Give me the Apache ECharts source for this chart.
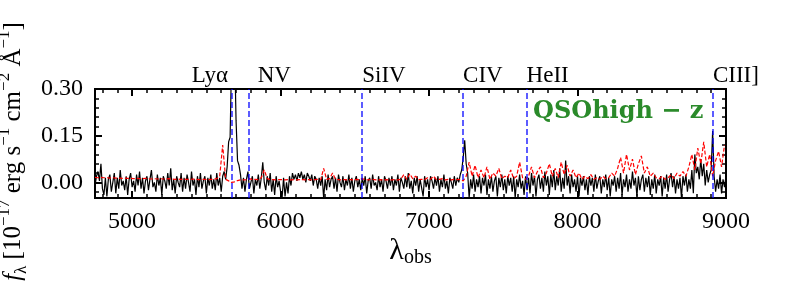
<!DOCTYPE html>
<html>
<head>
<meta charset="utf-8">
<script src="https://cdn.jsdelivr.net/npm/echarts@6/dist/echarts.min.js"></script>
<style>
html,body{margin:0;padding:0;background:#fff;}
#chart{width:789px;height:292px;}
</style>
</head>
<body>
<div id="chart"></div>
<script>
// ---- data (flux in 1e-17 erg/s/cm^2/A) ----
// black spectrum: sampled every 10 A from 4750 A
const BLACK_START = 4750;
const BLACK_STEP = 10;
const fluxBlack = [
  -0.01, 0.02, 0.035, 0.005, 0.06, -0.02, -0.04, 0.015, -0.045, 0.01,
  0.025, -0.03, 0.0, 0.03, -0.035, 0.015, -0.02, 0.04, -0.01, 0.005,
  -0.025, 0.02, -0.04, 0.01, 0.03, -0.015, 0.005, -0.03, 0.025, -0.01,
  0.035, -0.02, 0.015, -0.035, 0.005, 0.02, -0.025, 0.01, 0.04, -0.015,
  0.0, -0.03, 0.025, -0.01, 0.015, -0.04, 0.02, 0.005, -0.02, 0.03,
  -0.01, 0.045, -0.025, 0.01, -0.035, 0.02, 0.0, -0.015, 0.03, -0.03,
  0.015, -0.02, 0.025, 0.0, -0.03, 0.035, -0.01, 0.01, -0.04, 0.02,
  -0.015, 0.03, -0.02, 0.005, 0.02, -0.035, 0.015, -0.01, 0.025, -0.02,
  0.01, -0.025, 0.03, -0.01, 0.015, -0.03, 0.02, 0.035, 0.01, 0.05,
  0.13, 0.145, 0.40, 0.48, 0.44, 0.20, 0.07, 0.055, 0.025, -0.02,
  0.015, -0.03, 0.01, 0.035, -0.02, 0.0, 0.02, -0.035, 0.01, -0.01,
  0.025, -0.02, 0.015, 0.065, 0.0, -0.025, 0.02, -0.01, 0.03, -0.03,
  0.01, -0.04, 0.02, -0.015, 0.005, -0.03, -0.05, 0.015, -0.045, 0.0,
  -0.035, 0.02, -0.01, 0.03, 0.01, 0.025, 0.005, 0.03, 0.015, 0.035,
  0.01, 0.025, 0.0, 0.03, 0.02, 0.005, 0.025, -0.01, 0.02, 0.01,
  -0.02, 0.015, -0.01, 0.02, -0.05, 0.01, -0.025, 0.025, -0.015, 0.01,
  0.02, -0.02, 0.015, -0.03, 0.025, 0.0, -0.015, 0.02, -0.025, 0.01,
  -0.01, 0.025, -0.02, 0.015, -0.03, 0.005, 0.02, -0.015, 0.01, -0.025,
  0.015, -0.01, 0.02, -0.035, 0.005, 0.015, -0.02, 0.025, -0.01, 0.0,
  -0.025, 0.02, -0.015, 0.01, -0.03, 0.02, 0.005, -0.02, 0.015, -0.01,
  0.02, -0.025, 0.01, -0.01, 0.025, -0.03, 0.015, 0.0, -0.02, 0.02,
  -0.015, 0.03, -0.02, 0.005, -0.035, 0.015, -0.01, 0.02, -0.03, 0.01,
  0.015, -0.045, 0.02, -0.015, 0.01, -0.025, 0.02, 0.005, -0.02, 0.015,
  -0.01, 0.02, -0.03, 0.01, -0.015, 0.025, -0.02, 0.005, -0.035, 0.015,
  0.0, -0.02, 0.02, -0.01, 0.015, 0.0, 0.025, 0.04, 0.08, 0.135,
  0.06, 0.03, -0.05, 0.01, -0.02, 0.025, -0.03, 0.01, -0.015, 0.02,
  -0.035, 0.015, -0.01, 0.025, -0.04, 0.01, -0.02, 0.02, -0.03, 0.005,
  0.02, -0.045, 0.015, -0.015, 0.025, -0.025, 0.01, -0.035, 0.02, -0.01,
  0.015, -0.03, 0.02, -0.05, 0.01, -0.015, 0.025, -0.02, 0.005, -0.04,
  0.02, -0.025, 0.015, -0.035, 0.03, -0.01, 0.02, -0.045, 0.01, 0.025,
  -0.02, 0.015, -0.03, 0.035, -0.01, 0.02, -0.04, 0.025, -0.015, 0.04,
  -0.025, 0.02, -0.01, 0.045, -0.03, 0.015, -0.02, 0.07, -0.01, 0.02,
  -0.035, 0.025, -0.015, 0.01, -0.03, 0.02, -0.045, 0.015, -0.01, 0.02,
  -0.025, 0.01, -0.04, 0.02, -0.01, 0.015, -0.03, 0.025, -0.02, 0.005,
  0.02, -0.035, 0.01, -0.015, 0.025, -0.025, 0.015, -0.045, 0.01, -0.01,
  0.02, -0.03, 0.015, -0.02, 0.03, -0.04, 0.01, -0.015, 0.025, -0.03,
  0.01, -0.02, 0.035, -0.01, 0.015, -0.045, 0.02, -0.025, 0.01, 0.025,
  -0.03, 0.015, -0.015, 0.02, -0.04, 0.01, -0.02, 0.025, -0.035, 0.01,
  -0.01, 0.02, -0.045, 0.015, -0.02, 0.025, -0.03, 0.01, 0.03, -0.015,
  0.02, -0.035, 0.01, -0.02, 0.015, -0.05, 0.02, -0.01, 0.025, -0.03,
  0.01, -0.02, 0.04, -0.035, 0.09, 0.03, 0.05, 0.01, 0.075, 0.02,
  0.06, -0.01, 0.04, 0.0, 0.025, 0.04, 0.165, 0.02, -0.03, 0.01,
  -0.02, 0.025, -0.035, 0.01, -0.015, 0.02
];
// red (dashed) spectrum: sampled every 20 A from 4750 A
const RED_START = 4750;
const RED_STEP = 20;
const fluxRed = [
  0.016, 0.015, 0.016, 0.015, 0.015, 0.014, 0.015, 0.014, 0.014, 0.013,
  0.014, 0.013, 0.013, 0.012, 0.013, 0.012, 0.012, 0.013, 0.012, 0.011,
  0.012, 0.011, 0.012, 0.011, 0.011, 0.012, 0.011, 0.010, 0.011, 0.010,
  0.011, 0.010, 0.010, 0.011, 0.010, 0.009, 0.010, 0.010, 0.009, 0.010,
  0.010, 0.012, 0.020, 0.120, 0.010, 0.005, 0.000, 0.002, 0.006, 0.008,
  0.008, 0.009, 0.012, 0.009, 0.010, 0.009, 0.015, 0.040, 0.012, 0.009,
  0.009, 0.008, 0.009, 0.009, 0.008, 0.009, 0.008, 0.009, 0.008, 0.009,
  0.009, 0.008, 0.009, 0.008, 0.009, 0.010, 0.008, 0.045, 0.010, 0.012,
  0.030, 0.010, 0.009, 0.008, 0.009, 0.008, 0.009, 0.008, 0.010, 0.009,
  0.012, 0.009, 0.008, 0.010, 0.009, 0.008, 0.009, 0.008, 0.009, 0.008,
  0.008, 0.009, 0.008, 0.010, 0.025, 0.010, 0.028, 0.012, 0.020, 0.009,
  0.010, 0.009, 0.015, 0.010, 0.020, 0.009, 0.010, 0.012, 0.008, 0.010,
  0.008, 0.010, 0.009, 0.010, 0.005, 0.020, 0.065, 0.020, 0.055, 0.015,
  0.040, 0.015, 0.050, 0.010, 0.030, 0.020, 0.045, 0.012, 0.020, 0.015,
  0.040, 0.012, 0.020, 0.065, 0.015, 0.010, 0.020, 0.050, 0.015, 0.035,
  0.050, 0.015, 0.030, 0.060, 0.020, 0.045, 0.015, 0.065, 0.025, 0.055,
  0.020, 0.040, 0.015, 0.030, 0.010, 0.020, 0.012, 0.025, 0.010, 0.015,
  0.010, 0.020, 0.012, 0.015, 0.030, 0.020, 0.045, 0.080, 0.030, 0.090,
  0.040, 0.075, 0.025, 0.060, 0.085, 0.030, 0.050, 0.020, 0.030, 0.015,
  0.012, 0.020, 0.010, 0.015, 0.025, 0.012, 0.030, 0.020, 0.035, 0.020,
  0.050, 0.090, 0.040, 0.110, 0.060, 0.130, 0.050, 0.090, 0.020, 0.070,
  0.100, 0.050, 0.120
];
const lineNames = ['Lyα', 'NV', 'SiIV', 'CIV', 'HeII', 'CIII]'];
const lineWaves = [5673, 5785, 6550, 7229, 7657, 8912];
const xMajorTicks = [5000, 6000, 7000, 8000, 9000];
const yMajorTicks = [0.00, 0.15, 0.30];
const yMinorTicks = [-0.03, 0.03, 0.06, 0.09, 0.12, 0.18, 0.21, 0.24, 0.27];
const X_MIN = 4750, X_MAX = 9000, Y_MIN = -0.05, Y_MAX = 0.30;

const xMinorTicks = [];
for (let w = 4800; w < X_MAX; w += 100) { if (w % 1000 !== 0) xMinorTicks.push(w); }
const blackData = fluxBlack.map((f, i) => [BLACK_START + i * BLACK_STEP, f]);
const redData = fluxRed.map((f, i) => [RED_START + i * RED_STEP, f]);

// ---- styles ----
const SERIF = '"Liberation Serif", serif';
const labelOffsets = [[-4, 0, 'right'], [9, 0, 'left'], [0, 0, 'left'], [0, 0, 'left'], [0, 0, 'left'], [0, 0, 'left']];

function xAxisCfg(pos, ticks, len, width, withLabels) {
  return {
    type: 'value', position: pos, min: X_MIN, max: X_MAX,
    axisLine: { show: false, onZero: false },
    splitLine: { show: false },
    axisTick: { show: true, inside: true, length: len, customValues: ticks,
                lineStyle: { color: '#000', width: width } },
    axisLabel: withLabels
      ? { show: true, customValues: ticks, color: '#000', fontFamily: SERIF, fontSize: 24, margin: 12,
          formatter: v => String(v) }
      : { show: false }
  };
}
function yAxisCfg(pos, ticks, len, width, withLabels) {
  return {
    type: 'value', position: pos, min: Y_MIN, max: Y_MAX,
    axisLine: { show: false, onZero: false },
    splitLine: { show: false },
    axisTick: { show: true, inside: true, length: len, customValues: ticks,
                lineStyle: { color: '#000', width: width } },
    axisLabel: withLabels
      ? { show: true, customValues: ticks, color: '#000', fontFamily: SERIF, fontSize: 24, margin: 12,
          formatter: v => v.toFixed(2) }
      : { show: false }
  };
}

const xAxes = [
  xAxisCfg('bottom', xMajorTicks, 7, 2, true),
  xAxisCfg('bottom', xMinorTicks, 4, 1.5, false),
  xAxisCfg('top', xMajorTicks, 7, 2, false),
  xAxisCfg('top', xMinorTicks, 4, 1.5, false)
];
Object.assign(xAxes[0], {
  name: '{n|λ}{s|obs}', nameLocation: 'middle', nameGap: 36,
  nameTextStyle: { rich: {
    n: { fontFamily: SERIF, fontSize: 30, color: '#000', lineHeight: 34 },
    s: { fontFamily: SERIF, fontSize: 20, color: '#000', lineHeight: 20, verticalAlign: 'bottom' }
  } }
});
const yAxes = [
  yAxisCfg('left', yMajorTicks, 7, 2, true),
  yAxisCfg('left', yMinorTicks, 4, 1.5, false),
  yAxisCfg('right', yMajorTicks, 7, 2, false),
  yAxisCfg('right', yMinorTicks, 4, 1.5, false)
];
Object.assign(yAxes[0], {
  name: '{i|f}{sb|λ}{n| [10}{sp|−17}{n| erg}{n| s}{sp|−1}{n| cm}{sp|−2}{n| Å}{sp|−1}{n|]}',
  nameLocation: 'middle', nameGap: 55, nameRotate: 90,
  nameTextStyle: { padding: [0, 16, 0, 0], rich: {
    i: { fontFamily: SERIF, fontStyle: 'italic', fontSize: 25, color: '#000', lineHeight: 34 },
    n: { fontFamily: SERIF, fontSize: 25, color: '#000', lineHeight: 34 },
    sp: { fontFamily: SERIF, fontSize: 17, color: '#000', lineHeight: 17, verticalAlign: 'top' },
    sb: { fontFamily: SERIF, fontSize: 17, color: '#000', lineHeight: 17, verticalAlign: 'bottom' }
  } }
});

const option = {
  animation: false,
  backgroundColor: '#fff',
  grid: { left: 95, right: 63, top: 89, bottom: 94, show: true, borderColor: '#000', borderWidth: 2,
          backgroundColor: 'transparent', containLabel: false, outerBoundsMode: 'none' },
  xAxis: xAxes,
  yAxis: yAxes,
  series: [
    { type: 'line', data: blackData, showSymbol: false, symbol: 'none', clip: true,
      lineStyle: { color: '#000', width: 1.2 }, z: 2 },
    { type: 'line', data: redData, showSymbol: false, symbol: 'none', clip: true,
      lineStyle: { color: '#ff0000', width: 1.2, type: [4, 2] }, z: 3 },
    { type: 'scatter', symbolSize: 0, clip: false, z: 4,
      data: lineWaves.map((w, i) => ({
        value: [w, Y_MAX],
        label: { show: true, position: 'top', distance: 2, formatter: lineNames[i],
                 offset: [labelOffsets[i][0], labelOffsets[i][1]], align: labelOffsets[i][2],
                 color: '#000', opacity: 1, fontFamily: SERIF, fontSize: 23 }
      })),
      markLine: { silent: true, symbol: ['none', 'none'], label: { show: false },
                  lineStyle: { color: 'rgba(0,0,255,0.8)', width: 1.6, type: [6, 3] },
                  data: lineWaves.map(w => ({ xAxis: w })) }
    }
  ],
  graphic: [
    { type: 'text', left: 533, top: 100, z: 10,
      style: { text: 'QSOhigh − z', fill: '#2a8a2a', font: 'bold 24px "DejaVu Serif", serif' } }
  ]
};
const chart = echarts.init(document.getElementById('chart'), null, { renderer: 'canvas' });
chart.setOption(option);
</script>
</body>
</html>
